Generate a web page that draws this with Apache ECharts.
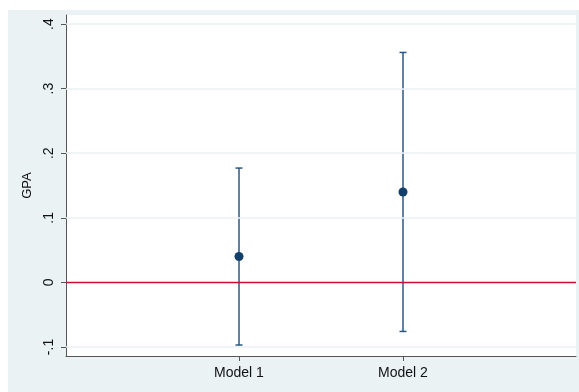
<!DOCTYPE html>
<html>
<head>
<meta charset="utf-8">
<script src="https://cdn.jsdelivr.net/npm/echarts@6/dist/echarts.min.js"></script>
<style>
html,body{margin:0;padding:0;background:#fff;}
#c{width:579px;height:392px;}
</style>
</head>
<body>
<div id="c"></div>
<script>
var models = ['Model 1', 'Model 2'];
var modelPos = [1, 2];
var coef = [0.040, 0.140];
var lower = [-0.097, -0.076];
var upper = [0.177, 0.356];
var yTicks = [-0.1, 0, 0.1, 0.2, 0.3, 0.4];
var yTickLabels = ['-.1', '0', '.1', '.2', '.3', '.4'];
var refLine = 0;

var chart = echarts.init(document.getElementById('c'));

var ciData = modelPos.map(function (p, i) { return [p, lower[i], upper[i]]; });
var ptData = modelPos.map(function (p, i) { return [p, coef[i]]; });
var gridLines = yTicks.filter(function (v) { return v !== refLine; });

var option = {
  animation: false,
  backgroundColor: '#ffffff',
  graphic: [{
    type: 'rect', z: -10, silent: true,
    shape: { x: 8, y: 10, width: 571, height: 382 },
    style: { fill: '#EAF2F3' }
  }],
  grid: {
    left: 66, right: 3, top: 15, bottom: 36,
    show: true, backgroundColor: '#ffffff', borderWidth: 0
  },
  xAxis: {
    type: 'value', min: -0.055, max: 3.055,
    axisLine: { show: true, onZero: false, lineStyle: { color: '#555555', width: 1 } },
    axisTick: { show: true, customValues: modelPos, length: 5, lineStyle: { color: '#555555' } },
    axisLabel: {
      customValues: modelPos, margin: 10,
      fontFamily: 'Liberation Sans, Arial, sans-serif', fontSize: 14, color: '#111',
      formatter: function (v) { var i = modelPos.indexOf(v); return i >= 0 ? models[i] : ''; }
    },
    splitLine: { show: false }
  },
  yAxis: {
    type: 'value', min: -0.114, max: 0.414,
    name: 'GPA', nameLocation: 'middle', nameRotate: 90, nameGap: 26,
    nameTextStyle: { fontFamily: 'Liberation Sans, Arial, sans-serif', fontSize: 13, color: '#111' },
    axisLine: { show: true, onZero: false, lineStyle: { color: '#555555', width: 1 } },
    axisTick: { show: true, customValues: yTicks, length: 5, lineStyle: { color: '#555555' } },
    axisLabel: {
      customValues: yTicks, rotate: 90, margin: 10,
      fontFamily: 'Liberation Sans, Arial, sans-serif', fontSize: 14, color: '#111',
      formatter: function (v) {
        for (var i = 0; i < yTicks.length; i++) { if (Math.abs(yTicks[i] - v) < 1e-9) return yTickLabels[i]; }
        return '';
      }
    },
    splitLine: { show: false }
  },
  series: [
    {
      type: 'line', data: [], silent: true,
      markLine: {
        silent: true, symbol: 'none', label: { show: false },
        lineStyle: { color: '#EAF2F3', width: 1.5, type: 'solid' },
        data: gridLines.map(function (v) { return { yAxis: v }; })
      }
    },
    {
      type: 'line', data: [], silent: true, z: 3,
      markLine: {
        silent: true, symbol: 'none', label: { show: false },
        lineStyle: { color: '#C8102E', width: 1.3, type: 'solid' },
        data: [{ yAxis: refLine }]
      }
    },
    {
      type: 'custom', z: 4,
      data: ciData,
      renderItem: function (params, api) {
        var x = api.value(0);
        var lo = api.coord([x, api.value(1)]);
        var hi = api.coord([x, api.value(2)]);
        var cw = 3.5;
        var st = { stroke: '#2A5886', lineWidth: 1.5 };
        return {
          type: 'group',
          children: [
            { type: 'line', shape: { x1: lo[0], y1: lo[1], x2: hi[0], y2: hi[1] }, style: st },
            { type: 'line', shape: { x1: lo[0] - cw, y1: lo[1], x2: lo[0] + cw, y2: lo[1] }, style: st },
            { type: 'line', shape: { x1: hi[0] - cw, y1: hi[1], x2: hi[0] + cw, y2: hi[1] }, style: st }
          ]
        };
      }
    },
    {
      type: 'scatter', z: 5,
      data: ptData, symbol: 'circle', symbolSize: 9,
      itemStyle: { color: '#143F6B', opacity: 1 }
    }
  ]
};
chart.setOption(option);
</script>
</body>
</html>
